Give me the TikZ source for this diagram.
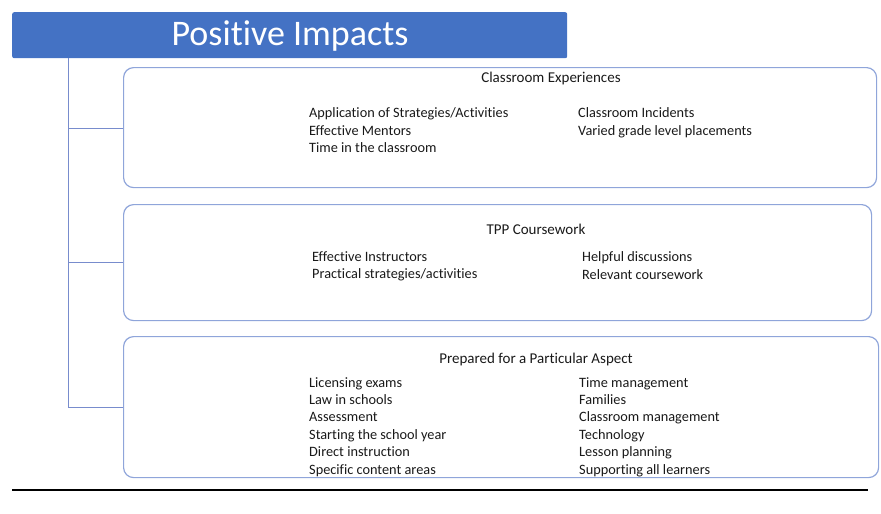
\documentclass[tikz,border=0pt]{standalone}
\usepackage{fontspec}
\setmainfont[Ligatures=NoCommon]{Carlito}
\usepackage{tikz}
\usetikzlibrary{positioning}

\definecolor{titleblue}{RGB}{68,114,196}
\definecolor{boxline}{RGB}{143,165,218}
\definecolor{tieline}{RGB}{120,140,205}

\tikzset{
  groupbox/.style={draw=boxline, line width=1.2pt, rounded corners=10pt, anchor=north west, inner sep=0pt},
  grouphead/.style={font=\fontsize{15}{17}\selectfont, text=black!90, inner sep=0pt},
  itemlist/.style={font=\fontsize{14.3}{17.4}\selectfont, text=black!90, align=left, anchor=north west, inner sep=0pt},
  tie/.style={draw=tieline, line width=1pt}
}

\begin{document}
\begin{tikzpicture}[x=1pt,y=-1pt]
        \useasboundingbox (0,0) rectangle (881,514);

        \node[fill=titleblue, rounded corners=2pt, anchor=north west, minimum width=555pt, minimum height=46pt, inner sep=0pt] (Title) at (12,12) {};
        \node[text=white, font=\fontsize{36}{40}\selectfont, inner sep=0pt] (TitleText) at (290,36) {Positive Impacts};

        \node[groupbox, minimum width=753pt, minimum height=120pt] (Classroom) at (123,67) {};
        \node[groupbox, minimum width=748pt, minimum height=116pt] (Coursework) at (123,204) {};
        \node[groupbox, minimum width=755pt, minimum height=141pt] (Aspect) at (123,336) {};

        \coordinate (Root) at (68,58);
        \coordinate (TieA) at (68,128);
        \coordinate (TieB) at (68,262);
        \coordinate (TieC) at (68,407);

        \draw[tie] (Root) -- (TieC);
        \draw[tie] (TieA) -- (TieA -| Classroom.west);
        \draw[tie] (TieB) -- (TieB -| Coursework.west);
        \draw[tie] (TieC) -- (TieC -| Aspect.west);

        \node[grouphead] (ClassroomHead) at (551,78) {Classroom Experiences};
        \node[itemlist] (ClassroomLeft) at (309,107.5) {Application of Strategies/Activities\\Effective Mentors\\Time in the classroom};
        \node[itemlist] (ClassroomRight) at (578,107.5) {Classroom Incidents\\Varied grade level placements};

        \node[grouphead] (CourseworkHead) at (536,229) {TPP Coursework};
        \node[itemlist] (CourseworkLeft) at (312,251.5) {Effective Instructors\\Practical strategies/activities};
        \node[itemlist] (CourseworkRight) at (582,251.5) {Helpful discussions\\Relevant coursework};

        \node[grouphead] (AspectHead) at (536,359) {Prepared for a Particular Aspect};
        \node[itemlist] (AspectLeft) at (309,377) {Licensing exams\\Law in schools\\Assessment\\Starting the school year\\Direct instruction\\Specific content areas};
        \node[itemlist] (AspectRight) at (579,377) {Time management\\Families\\Classroom management\\Technology\\Lesson planning\\Supporting all learners};

        \coordinate (RuleL) at (12,490);
        \coordinate (RuleR) at (868,490);
        \draw[line width=2pt] (RuleL) -- (RuleR);

    \end{tikzpicture}
\end{document}
